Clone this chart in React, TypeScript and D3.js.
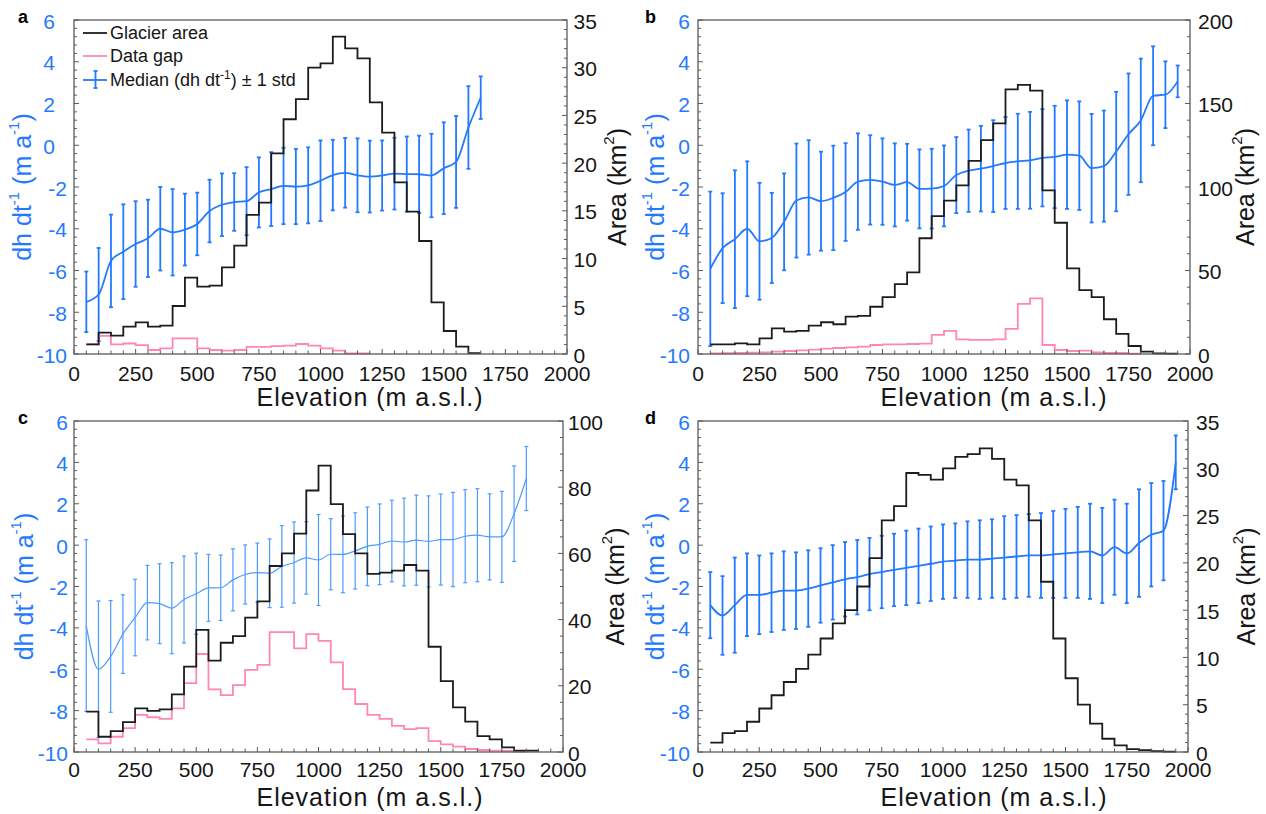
import React from 'react';
import * as d3 from 'd3';

const W = 1266;
const H = 814;
const FONT = '"Liberation Sans", Arial, Helvetica, sans-serif';

// Bin start elevations (m a.s.l.), 50 m bins
const binStarts = [50,100,150,200,250,300,350,400,450,500,550,600,650,700,750,800,850,900,950,1000,1050,1100,1150,1200,1250,1300,1350,1400,1450,1500,1550,1600,1650,1700,1750,1800,1850,1900,1950];
const binWidth = 50;

const xTickLabels = [0, 250, 500, 750, 1000, 1250, 1500, 1750, 2000];
const leftTickLabels = [-10, -8, -6, -4, -2, 0, 2, 4, 6];

// ---- Panel a ----
const medianA = [-7.5,-7.15,-5.54,-5.1,-4.73,-4.46,-4.0,-4.17,-4.04,-3.77,-3.15,-2.85,-2.72,-2.68,-2.26,-2.1,-1.95,-1.98,-1.92,-1.7,-1.43,-1.32,-1.44,-1.5,-1.45,-1.36,-1.38,-1.39,-1.45,-1.1,-0.8,0.85,2.28];
const stdA = [1.45,2.23,2.22,2.27,2.05,1.85,2.0,2.07,1.72,1.5,1.5,1.5,1.38,1.63,1.68,1.77,1.83,1.8,1.82,1.93,1.69,1.67,1.77,1.72,1.68,1.72,1.8,1.85,2.0,2.2,2.2,1.98,1.02];
const areaA = [1.01,2.24,1.92,2.87,3.32,2.87,2.97,5.03,8.0,7.06,7.16,9.08,11.35,14.57,15.86,21.03,24.6,26.7,30.0,30.46,33.25,32.03,30.98,26.37,23.19,17.99,14.91,11.84,5.41,2.41,0.77,0.1];
const gapA = [1.0,1.89,1.0,1.1,0.93,0.42,0.58,1.64,1.64,0.58,0.42,0.35,0.42,0.75,0.75,0.82,0.87,1.05,0.87,0.59,0.35,0.07,0.07];
const rightTicksA = [0, 5, 10, 15, 20, 25, 30, 35];

// ---- Panel b ----
const medianB = [-5.92,-4.93,-4.5,-4.0,-4.6,-4.44,-3.67,-2.65,-2.5,-2.68,-2.52,-2.24,-1.74,-1.66,-1.74,-1.9,-1.77,-2.09,-2.08,-1.95,-1.43,-1.22,-1.12,-1.0,-0.85,-0.77,-0.72,-0.6,-0.56,-0.45,-0.5,-1.1,-1.0,-0.3,0.53,1.19,2.37,2.42,3.06];
const stdB = [3.7,2.63,3.3,3.23,2.8,2.16,2.32,2.73,2.74,2.37,2.5,2.34,2.31,2.14,2.07,1.99,1.84,1.89,1.91,1.94,1.82,1.97,2.05,2.2,2.2,2.28,2.32,2.33,2.45,2.6,2.6,2.6,2.66,2.86,2.91,2.96,2.37,1.6,0.76];
const areaB = [5.8,5.8,6.4,5.8,9.4,15.4,13.4,13.8,17,19,17.8,22.4,22.8,28.3,34,41.9,48.9,69.3,82.6,91.8,101,115.7,128.1,138.1,158.5,161.1,157.7,98,78.6,51.3,38.3,34,20.8,12,4.8,1.4,0.4,0.2];
const gapB = [0.4,0.5,0.7,0.8,1.0,1.4,1.8,2.2,2.6,3.2,3.6,4.0,4.4,5.4,5.8,5.8,6.0,6.2,11.4,13.8,8.8,8.4,8.4,8.8,15,30,33.3,5.4,2.4,1.8,2.0,1.0,0.6,0.6,0.2];
const rightTicksB = [0, 50, 100, 150, 200];

// ---- Panel c ----
const medianC = [-3.89,-6.0,-5.38,-4.3,-3.5,-2.78,-2.83,-3.05,-2.63,-2.35,-2.07,-2.06,-1.68,-1.42,-1.33,-1.36,-1.03,-0.84,-0.62,-0.72,-0.44,-0.45,-0.28,-0.06,0.04,0.2,0.15,0.24,0.18,0.27,0.27,0.43,0.48,0.4,0.4,1.52,3.22];
const stdC = [4.15,3.3,2.7,1.9,1.85,1.8,1.93,2.2,2.1,1.96,1.62,1.58,1.5,1.43,1.43,1.66,1.97,1.96,1.75,2.2,1.72,1.85,1.84,1.9,1.95,1.97,2.12,2.18,2.2,2.2,2.28,2.25,2.25,2.08,2.2,2.31,1.55];
const areaC = [12.2,4.6,6.3,9,13.2,12.4,12.9,17.4,25.8,36.9,27.6,33,35,40.6,45.5,56.2,60,66,79,86.5,74.9,65.8,60,53.8,54.2,54.8,56.5,54.8,31.8,21.4,13.5,9.2,4.8,3.8,1.4,0.4,0.4];
const gapC = [3.8,2.6,4.6,7.2,11.2,10.5,10,13.2,20.8,29.6,18.9,17.2,20.2,24.8,26.3,36.2,36.2,31.3,35.6,33.6,27.1,19,14.5,11.2,10,7.9,6.9,7.2,3.3,2.3,1.6,0.9,0.6,0.4,0.3,0.1];
const rightTicksC = [0, 20, 40, 60, 80, 100];

// ---- Panel d ----
const medianD = [-2.9,-3.4,-2.9,-2.4,-2.4,-2.3,-2.2,-2.2,-2.1,-1.95,-1.8,-1.65,-1.55,-1.4,-1.3,-1.2,-1.1,-1.0,-0.9,-0.8,-0.75,-0.7,-0.7,-0.65,-0.6,-0.55,-0.5,-0.5,-0.45,-0.4,-0.35,-0.3,-0.5,-0.1,-0.4,0.1,0.5,0.7,4.0];
const stdD = [1.6,1.9,2.3,2.0,1.9,1.9,1.9,1.85,1.85,1.8,1.8,1.8,1.8,1.75,1.75,1.75,1.8,1.8,1.8,1.8,1.8,1.85,1.9,1.9,2.0,2.0,2.0,2.05,2.1,2.15,2.2,2.3,2.3,2.3,2.4,2.6,2.5,2.4,1.3];
const areaD = [1.0,2.0,2.2,3.2,4.6,6.0,7.4,8.8,10.3,12.0,13.6,15.0,17.5,20.5,24.5,26.0,29.5,29.3,28.8,30.0,31.2,31.5,32.1,31.0,28.8,28.2,24.5,18.0,12.0,7.8,5.0,3.0,1.4,0.7,0.3,0.2,0.1,0.05];
const gapD: number[] = [];
const rightTicksD = [0, 5, 10, 15, 20, 25, 30, 35];

const BLUE = '#2479ff';
const BLUE_C = '#4d9bff';
const BLACK = '#1c1c1c';
const PINK = '#ff86b6';
const AXIS = '#5a5a5a';
const TEXT = '#161616';

type Cfg = {
  letter: string;
  L: number; R: number; T: number; B: number;
  rMax: number; rTicks: number[]; rMinor: number;
  median: number[]; std: number[]; area: number[]; gap: number[];
  lineColor: string; lineW: number;
  posShift: number; leftGap: number; rightGap: number;
  xLabBase: number; xTitleBase: number;
  yTitleX: number; rTitleX: number;
  legend?: boolean;
};

function Panel({ c }: { c: Cfg }) {
  const x = d3.scaleLinear().domain([0, 2000]).range([c.L, c.R]);
  const yL = d3.scaleLinear().domain([-10, 6]).range([c.B, c.T]);
  const yR = d3.scaleLinear().domain([0, c.rMax]).range([c.B, c.T]);

  const stairs = (vals: number[]) => {
    if (!vals.length) return '';
    const pts: [number, number][] = vals.map((v, i) => [binStarts[i], v]);
    pts.push([binStarts[vals.length - 1] + binWidth, vals[vals.length - 1]]);
    return d3.line<[number, number]>()
      .x(d => x(d[0]))
      .y(d => yR(d[1]))
      .curve(d3.curveStepAfter)(pts) || '';
  };

  const medPts: [number, number][] = c.median.map((m, i) => [binStarts[i], m]);
  const medPath = d3.line<[number, number]>()
    .x(d => x(d[0]))
    .y(d => yL(d[1]))
    .curve(d3.curveMonotoneX)(medPts) || '';

  const xMinor = d3.range(0, 2001, 50);
  const leftMinor = d3.range(0, 41).map(i => -10 + i * 0.4);
  const rightMinor = d3.range(0, Math.round(c.rMax / c.rMinor) + 1).map(i => i * c.rMinor);

  const cx = c.L + 296;
  const cy = (c.T + c.B) / 2;
  const supDy = 9;

  return (
    <g>
      <text x={c.letter === 'a' || c.letter === 'c' ? 18 : 645} y={c.T + 3} fontFamily={FONT} fontWeight="bold" fontSize={18} fill="#000">{c.letter}</text>

      {/* error bars and median */}
      <g stroke={c.lineColor} strokeWidth={c.lineW} fill="none">
        {c.median.map((m, i) => {
          const xx = x(binStarts[i]);
          const y1 = yL(m + c.std[i]);
          const y2 = yL(m - c.std[i]);
          return (
            <g key={i}>
              <line x1={xx} x2={xx} y1={y1} y2={y2} />
              <line x1={xx - 2} x2={xx + 2} y1={y1} y2={y1} />
              <line x1={xx - 2} x2={xx + 2} y1={y2} y2={y2} />
            </g>
          );
        })}
        <path d={medPath} />
      </g>

      {/* data gap and glacier area */}
      <path d={stairs(c.gap)} fill="none" stroke={PINK} strokeWidth={1.8} />
      <path d={stairs(c.area)} fill="none" stroke={BLACK} strokeWidth={1.8} />

      {/* box */}
      <rect x={c.L} y={c.T} width={c.R - c.L} height={c.B - c.T} fill="none" stroke={AXIS} strokeWidth={1.3} />

      {/* ticks */}
      <g stroke={AXIS} strokeWidth={1}>
        {xMinor.map(v => (
          <line key={'xm' + v} x1={x(v)} x2={x(v)} y1={c.B} y2={c.B - (v % 250 === 0 ? 5 : 3.5)} />
        ))}
        {leftMinor.map((v, i) => (
          <line key={'lm' + i} x1={c.L} x2={c.L + (i % 5 === 0 ? 5 : 3)} y1={yL(v)} y2={yL(v)} />
        ))}
        {rightMinor.map((v, i) => (
          <line key={'rm' + i} x1={c.R} x2={c.R - (c.rTicks.includes(v) ? 5 : 3)} y1={yR(v)} y2={yR(v)} />
        ))}
      </g>

      {/* x tick labels */}
      {xTickLabels.map(v => (
        <text key={'xl' + v} x={x(v)} y={c.B + c.xLabBase} textAnchor="middle" fontFamily={FONT} fontSize={21} fill={TEXT}>{v}</text>
      ))}
      {/* left tick labels */}
      {leftTickLabels.map(v => (
        <text key={'yl' + v} x={c.L - c.leftGap - (v >= 0 ? c.posShift : 0)} y={yL(v) + 1} textAnchor="end" dominantBaseline="central" fontFamily={FONT} fontSize={21} fill={BLUE}>{v < 0 ? '-' + Math.abs(v) : String(v)}</text>
      ))}
      {/* right tick labels */}
      {c.rTicks.map(v => (
        <text key={'yr' + v} x={c.R + c.rightGap} y={yR(v) + 1} textAnchor="start" dominantBaseline="central" fontFamily={FONT} fontSize={21} fill={TEXT}>{v}</text>
      ))}

      {/* x title */}
      <text x={cx} y={c.B + c.xTitleBase} textAnchor="middle" fontFamily={FONT} fontSize={25} letterSpacing={1} fill={TEXT}>Elevation (m a.s.l.)</text>

      {/* left title */}
      <text transform={`translate(${c.yTitleX},${cy}) rotate(-90)`} textAnchor="middle" dominantBaseline="central" fontFamily={FONT} fontSize={25} fill={BLUE}>
        dh dt<tspan dy={-supDy} fontSize={15}>-1</tspan><tspan dy={supDy}> (m a</tspan><tspan dy={-supDy} fontSize={15}>-1</tspan><tspan dy={supDy}>)</tspan>
      </text>
      {/* right title */}
      <text transform={`translate(${c.rTitleX},${cy}) rotate(-90)`} textAnchor="middle" dominantBaseline="central" fontFamily={FONT} fontSize={25} fill={TEXT}>
        Area (km<tspan dy={-supDy} fontSize={15}>2</tspan><tspan dy={supDy}>)</tspan>
      </text>

      {c.legend && (
        <g fontFamily={FONT} fontSize={18} fill={TEXT}>
          <line x1={83} x2={107} y1={33} y2={33} stroke={BLACK} strokeWidth={1.8} />
          <text x={110} y={39}>Glacier area</text>
          <line x1={83} x2={107} y1={56} y2={56} stroke={PINK} strokeWidth={1.8} />
          <text x={110} y={62}>Data gap</text>
          <line x1={83} x2={107} y1={80} y2={80} stroke={BLUE} strokeWidth={1.8} />
          <line x1={95.5} x2={95.5} y1={71} y2={88} stroke={BLUE} strokeWidth={1.8} />
          <line x1={93.5} x2={97.5} y1={71} y2={71} stroke={BLUE} strokeWidth={1.8} />
          <line x1={93.5} x2={97.5} y1={88} y2={88} stroke={BLUE} strokeWidth={1.8} />
          <text x={110} y={86}>Median (dh dt<tspan dy={-7} fontSize={12}>-1</tspan><tspan dy={7}>) ± 1 std</tspan></text>
        </g>
      )}
    </g>
  );
}

const panels: Cfg[] = [
  { letter: 'a', L: 74, R: 567, T: 20, B: 354, rMax: 35, rTicks: rightTicksA, rMinor: 1,
    median: medianA, std: stdA, area: areaA, gap: gapA, lineColor: BLUE, lineW: 1.8,
    posShift: 12, leftGap: 7, rightGap: 6.5, xLabBase: 27, xTitleBase: 52, yTitleX: 22, rTitleX: 617, legend: true },
  { letter: 'b', L: 698, R: 1190, T: 20, B: 354, rMax: 200, rTicks: rightTicksB, rMinor: 10,
    median: medianB, std: stdB, area: areaB, gap: gapB, lineColor: BLUE, lineW: 1.8,
    posShift: 0, leftGap: 8, rightGap: 8, xLabBase: 27, xTitleBase: 52, yTitleX: 655, rTitleX: 1245 },
  { letter: 'c', L: 74, R: 563, T: 421, B: 752, rMax: 100, rTicks: rightTicksC, rMinor: 5,
    median: medianC, std: stdC, area: areaC, gap: gapC, lineColor: BLUE_C, lineW: 1.2,
    posShift: 0, leftGap: 6, rightGap: 5, xLabBase: 25, xTitleBase: 54, yTitleX: 24, rTitleX: 615 },
  { letter: 'd', L: 698, R: 1188, T: 421, B: 752, rMax: 35, rTicks: rightTicksD, rMinor: 1,
    median: medianD, std: stdD, area: areaD, gap: gapD, lineColor: BLUE, lineW: 1.8,
    posShift: 0, leftGap: 8, rightGap: 8, xLabBase: 25, xTitleBase: 54, yTitleX: 655, rTitleX: 1246 },
];

export default function App() {
  return (
    <svg width={W} height={H} viewBox={`0 0 ${W} ${H}`} style={{ position: 'absolute', left: 0, top: 0, background: '#fff' }}>
      <rect x={0} y={0} width={W} height={H} fill="#fff" />
      {panels.map(p => <Panel key={p.letter} c={p} />)}
    </svg>
  );
}
